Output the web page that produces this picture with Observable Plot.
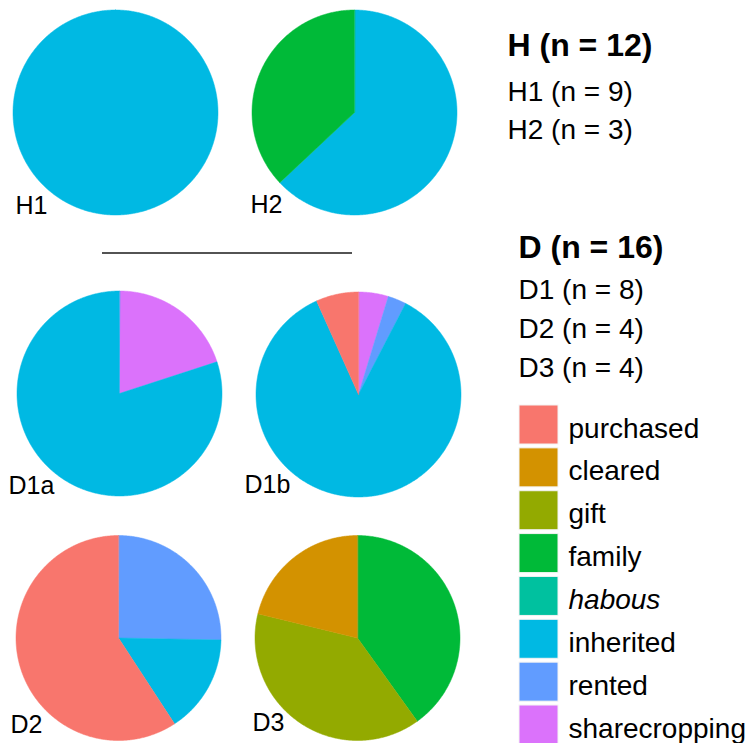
<!DOCTYPE html>
<html>
<head>
<meta charset="utf-8">
<script src="https://cdn.jsdelivr.net/npm/d3@7"></script>
<script src="https://cdn.jsdelivr.net/npm/@observablehq/plot@0.6"></script>
<style>
  html, body { margin: 0; padding: 0; background: #fff; }
  #chart { width: 750px; height: 743px; }
</style>
</head>
<body>
<div id="chart"></div>
<script>
// ---- Data ----
const categories = ["purchased", "cleared", "gift", "family", "habous", "inherited", "rented", "sharecropping"];
const colors = ["#F8766D", "#D39200", "#93AA00", "#00BA38", "#00C19F", "#00B9E3", "#619CFF", "#DB72FB"];

// shares per pie (percent), clockwise from 12 o'clock
const pieNames = ["H1", "H2", "D1a", "D1b", "D2", "D3"];
const H1 = [{cat: "inherited", v: 100}];
const H2 = [{cat: "inherited", v: 63}, {cat: "family", v: 37}];
const D1a = [{cat: "sharecropping", v: 20}, {cat: "inherited", v: 80}];
const D1b = [{cat: "sharecropping", v: 4.7}, {cat: "rented", v: 2.9}, {cat: "inherited", v: 85.7}, {cat: "purchased", v: 6.7}];
const D2 = [{cat: "rented", v: 25.3}, {cat: "inherited", v: 15.5}, {cat: "purchased", v: 59.2}];
const D3 = [{cat: "family", v: 40.1}, {cat: "gift", v: 38.7}, {cat: "cleared", v: 21.2}];

const groupTitles = ["H (n = 12)", "D (n = 16)"];
const groupItems = ["H1 (n = 9)", "H2 (n = 3)", "D1 (n = 8)", "D2 (n = 4)", "D3 (n = 4)"];

// ---- Layout (positions only) ----
const pieData = [H1, H2, D1a, D1b, D2, D3];
const centers = [[115, 112], [354, 112], [119, 393], [358, 394], [118, 637.5], [357, 637.5]];
const R = 102.5;
const labelPos = [[15, 213], [250, 212], [8, 493], [244, 492], [10, 732], [252, 730]];

// build slice polygons from data
const slices = [];
pieData.forEach((rows, p) => {
  const arcs = d3.pie().sort(null).value(d => d.v).startAngle(0).endAngle(2 * Math.PI)(rows);
  const [cx, cy] = centers[p];
  arcs.forEach((a, i) => {
    const id = pieNames[p] + "-" + i;
    const full = (a.endAngle - a.startAngle) >= 2 * Math.PI - 1e-6;
    if (!full) slices.push({id, cat: a.data.cat, x: cx, y: cy});
    const n = Math.max(2, Math.ceil((a.endAngle - a.startAngle) / (Math.PI / 360)));
    for (let k = 0; k <= n; k++) {
      const t = a.startAngle + (a.endAngle - a.startAngle) * k / n;
      slices.push({id, cat: a.data.cat, x: cx + R * Math.sin(t), y: cy - R * Math.cos(t)});
    }
  });
});

const pieLabels = pieNames.map((name, i) => ({name, x: labelPos[i][0], y: labelPos[i][1]}));
const titleRows = [
  {t: groupTitles[0], x: 507, y: 55},
  {t: groupTitles[1], x: 518, y: 257}
];
const itemY = [100, 138, 298, 337, 376];
const itemX = [507, 507, 518, 518, 518];
const itemRows = groupItems.map((t, i) => ({t, x: itemX[i], y: itemY[i]}));
const legendRows = categories.map((c, i) => ({cat: c, y0: 405 + i * 42.86, y1: 444 + i * 42.86}));

const plot = Plot.plot({
  width: 750,
  height: 743,
  margin: 0,
  style: {fontFamily: "'Liberation Sans', Arial, sans-serif", background: "white"},
  x: {domain: [0, 750], range: [0, 750], axis: null},
  y: {domain: [0, 743], range: [0, 743], axis: null},
  color: {domain: categories, range: colors},
  marks: [
    Plot.line(slices, {x: "x", y: "y", z: "id", fill: "cat", stroke: "cat", strokeWidth: 0.5, curve: "linear-closed"}),
    Plot.text(pieLabels, {x: "x", y: "y", text: "name", textAnchor: "start", lineAnchor: "bottom", fontSize: 25, fill: "black"}),
    Plot.ruleY([252.5], {x1: 102, x2: 352, stroke: "#1a1a1a", strokeWidth: 1.6}),
    Plot.text(titleRows, {x: "x", y: "y", text: "t", textAnchor: "start", lineAnchor: "bottom", fontSize: 32, fontWeight: "bold", fill: "black"}),
    Plot.text(itemRows, {x: "x", y: "y", text: "t", textAnchor: "start", lineAnchor: "bottom", fontSize: 28, fill: "black"}),
    Plot.rect(legendRows, {x1: 519, x2: 558, y1: "y0", y2: "y1", fill: "cat", stroke: "#f3f3f3", strokeWidth: 1}),
    Plot.text(legendRows.filter(d => d.cat !== "habous"), {x: 568, y: d => d.y0 + 32, text: "cat", textAnchor: "start", lineAnchor: "bottom", fontSize: 28, fill: "black"}),
    Plot.text(legendRows.filter(d => d.cat === "habous"), {x: 568, y: d => d.y0 + 32, text: "cat", textAnchor: "start", lineAnchor: "bottom", fontSize: 28, fontStyle: "italic", fill: "black"})
  ]
});
document.getElementById("chart").appendChild(plot);
</script>
</body>
</html>
